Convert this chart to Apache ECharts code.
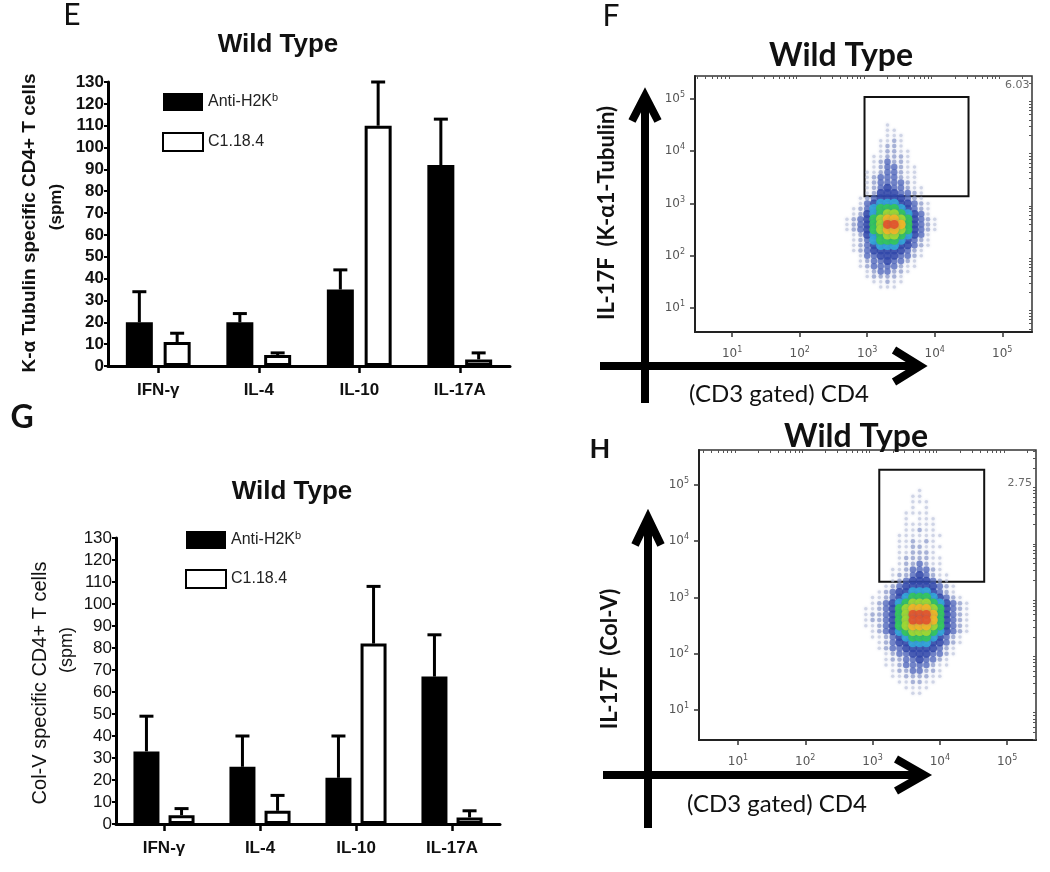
<!DOCTYPE html>
<html><head><meta charset="utf-8">
<script src="https://cdn.jsdelivr.net/npm/echarts@6/dist/echarts.min.js"></script>
<style>html,body{margin:0;padding:0;background:#fff}#c{width:1050px;height:872px}</style>
</head><body><div id="c"></div>
<script>
// ---------------- data ----------------
const categories = ['IFN-γ', 'IL-4', 'IL-10', 'IL-17A'];
const seriesNames = ['Anti-H2Kb', 'C1.18.4'];
// Panel E : K-alpha1 Tubulin specific CD4+ T cells (spm)
const tubulinAnti = [20, 20, 35, 92];
const tubulinAntiErr = [14, 4, 9, 21];
const tubulinC118 = [11, 5, 110, 3];
const tubulinC118Err = [4, 1, 20, 3];
// Panel G : Col-V specific CD4+ T cells (spm)
const colvAnti = [33, 26, 21, 67];
const colvAntiErr = [16, 14, 19, 19];
const colvC118 = [4, 6, 82, 3];
const colvC118Err = [3, 7, 26, 3];
const barAxisMax = 130;
const barAxisStep = 10;

// Flow plots (log10 units)
const flowDecades = [1, 2, 3, 4, 5];
const flowRangeF = [0.45, 5.44, 0.54, 5.44];   // xmin,xmax,ymin,ymax
const flowRangeH = [0.42, 5.43, 0.47, 5.62];
const gateF = [2.96, 4.50, 3.14, 5.04];        // x1,x2,y1,y2
const gateH = [3.10, 4.66, 3.28, 5.27];
const gateLabelF = [5.22, 5.27, '6.03'];
const gateLabelH = [5.19, 5.04, '2.75'];
const densityStep = 0.1;
// density level (0-9); rows top->bottom, columns left->right
const densityOriginF = [2.7, 4.6];
const densityF = [
  "000000000000000",
  "000000100000000",
  "000000110000000",
  "000000111000000",
  "000001121000000",
  "000001221000000",
  "000001221100000",
  "000011222100000",
  "000012322100000",
  "000012332110000",
  "000112332110000",
  "000123332110000",
  "000123333210000",
  "000123433211000",
  "000124443321000",
  "001234444321000",
  "001345554432100",
  "012356665432100",
  "012456776543100",
  "123467887643210",
  "123467998643210",
  "123467887643210",
  "012456776543100",
  "012356665432100",
  "012345554432100",
  "012344444321000",
  "001334443321000",
  "001233433210000",
  "001233332110000",
  "000123322100000",
  "000122221000000",
  "000011211000000",
  "000001110000000"
];
const densityOriginH = [2.9, 5.0];
const densityH = [
  "00000000000000000",
  "00000000100000000",
  "00000001100000000",
  "00000001110000000",
  "00000001010000000",
  "00000011110000000",
  "00000010111000000",
  "00000011111000000",
  "00000011211000000",
  "00000111111100000",
  "00000112121000000",
  "00000112211100000",
  "00000112221000000",
  "00000122221100000",
  "00000122321100000",
  "00001123332100000",
  "00001223432110000",
  "00001234443210000",
  "00012344444321000",
  "00123445554321000",
  "01123456665432100",
  "01234567776543210",
  "11234678887643210",
  "12234679998643210",
  "12234679998643210",
  "11234678887643210",
  "01234567776543210",
  "01123456665432100",
  "00123445554432100",
  "00123344444321000",
  "00012334443321000",
  "00012233433210000",
  "00011233332110000",
  "00001223322100000",
  "00001122221100000",
  "00000112211000000",
  "00000011110000000",
  "00000001100000000"
];

// ---------------- helpers ----------------
const levelColor = ['#fff', '#b9c1da', '#8c9acb', '#5268bd', '#3148aa', '#33a3d8', '#34c65e', '#9ed832', '#efb526', '#e2562c'];
const levelSize = [0, 3.5, 4.5, 6.5, 8, 9.5, 9.5, 9.5, 9.5, 9];
const levelOpacity = [0, 0.6, 0.7, 0.75, 0.85, 0.95, 0.95, 0.95, 0.95, 0.95];

function buildDensity(rows, origin, step) {
  const out = [];
  rows.forEach((row, r) => {
    for (let c = 0; c < row.length; c++) {
      const lv = +row[c];
      if (lv > 0) out.push([+(origin[0] + c * step).toFixed(3), +(origin[1] - r * step).toFixed(3), lv]);
    }
  });
  out.sort((a, b) => a[2] - b[2]);
  return out;
}
function minorTicks(lo, hi) {
  const v = [];
  for (let d = 0; d <= 6; d++) for (let k = 2; k <= 9; k++) {
    const t = d + Math.log10(k);
    if (t > lo && t < hi) v.push(t);
  }
  return v;
}
const BAR_FONT = 'Liberation Sans, Arial, sans-serif';
const FLOW_FONT = 'Lato, Open Sans, sans-serif';

function barXAxis(gi, margin) {
  return {
    gridIndex: gi, type: 'category', data: categories,
    axisLine: { show: true, lineStyle: { color: '#000', width: 3 } },
    axisTick: { show: true, alignWithLabel: true, length: 7, lineStyle: { color: '#000', width: 2.5 } },
    axisLabel: { color: '#111', fontFamily: BAR_FONT, fontWeight: 'bold', fontSize: 17, margin: margin },
    splitLine: { show: false }
  };
}
function barYAxis(gi, bold) {
  return {
    gridIndex: gi, type: 'value', min: 0, max: barAxisMax, interval: barAxisStep,
    axisLine: { show: true, lineStyle: { color: '#000', width: 3 } },
    axisTick: { show: true, length: 4, lineStyle: { color: '#000', width: 2 } },
    axisLabel: { color: '#111', fontFamily: BAR_FONT, fontWeight: bold ? 'bold' : 'normal', fontSize: 17, margin: 4 },
    splitLine: { show: false }
  };
}
function barSeries(name, gi, vals, white, bw, gap) {
  return {
    type: 'bar', name: name, xAxisIndex: gi, yAxisIndex: gi, data: vals,
    barWidth: bw, barGap: gap, z: 2,
    itemStyle: white ? { color: '#fff', borderColor: '#000', borderWidth: 3 } : { color: '#000' }
  };
}
function errSeries(gi, vals, errs, offset) {
  return {
    type: 'custom', xAxisIndex: gi, yAxisIndex: gi, silent: true, z: 3,
    data: vals.map((v, i) => [i, v, v + errs[i]]),
    encode: { x: 0, y: [1, 2] },
    renderItem: function (params, api) {
      const b = api.coord([api.value(0), api.value(1)]);
      const t = api.coord([api.value(0), api.value(2)]);
      const x = b[0] + offset;
      return {
        type: 'group', children: [
          { type: 'line', shape: { x1: x, y1: b[1], x2: x, y2: t[1] }, style: { stroke: '#000', lineWidth: 3 } },
          { type: 'line', shape: { x1: x - 7, y1: t[1], x2: x + 7, y2: t[1] }, style: { stroke: '#000', lineWidth: 3 } }
        ]
      };
    }
  };
}
function legendFor(left, top, gap) {
  return {
    left: left, top: top, orient: 'vertical', icon: 'rect',
    itemWidth: 40, itemHeight: 18, itemGap: gap, data: seriesNames,
    selectedMode: false,
    formatter: n => n === 'Anti-H2Kb' ? '{n|Anti-H2K}{s|b}' : '{n|' + n + '}',
    textStyle: {
      color: '#222', fontFamily: BAR_FONT,
      rich: { n: { fontSize: 16, lineHeight: 20, fontFamily: BAR_FONT, color: '#222' },
              s: { fontSize: 11, lineHeight: 20, verticalAlign: 'top', fontFamily: BAR_FONT, color: '#222' } }
    }
  };
}
const supRich = { s: { fontSize: 8, lineHeight: 16, verticalAlign: 'top', color: '#555' } };
function flowAxes(gi, range, isX) {
  const lo = isX ? range[0] : range[2], hi = isX ? range[1] : range[3];
  const major = {
    gridIndex: gi, type: 'value', min: lo, max: hi,
    axisLine: { show: true, lineStyle: { color: '#222', width: 2 } },
    axisTick: { show: true, customValues: flowDecades, length: 5, lineStyle: { color: '#333', width: 1.5 } },
    axisLabel: { customValues: flowDecades, formatter: v => '10{s|' + Math.round(v) + '}', rich: supRich,
                 color: '#555', fontSize: 12, lineHeight: 16, margin: isX ? 14 : 10, fontFamily: 'DejaVu Sans, sans-serif' },
    splitLine: { show: false }
  };
  const minor = {
    gridIndex: gi, type: 'value', min: lo, max: hi,
    axisLine: { show: false },
    axisTick: { show: true, inside: true, customValues: minorTicks(lo, hi), length: 3, lineStyle: { color: '#555', width: 1 } },
    axisLabel: { show: false }, splitLine: { show: false }
  };
  return [major, minor];
}
function flowSeries(xi, yi, rows, origin, gate, lab) {
  return [{
    type: 'scatter', xAxisIndex: xi, yAxisIndex: yi, silent: true,
    data: buildDensity(rows, origin, densityStep).map(d => ({
      value: d, itemStyle: { color: levelColor[d[2]], opacity: levelOpacity[d[2]] }
    })),
    symbol: 'circle',
    symbolSize: v => levelSize[v[2]],
    itemStyle: { shadowBlur: 3, shadowColor: 'rgba(60,80,160,0.3)' },
    markArea: {
      silent: true,
      itemStyle: { color: 'rgba(0,0,0,0)', borderColor: '#111', borderWidth: 2 },
      data: [[{ coord: [gate[0], gate[2]] }, { coord: [gate[1], gate[3]] }]]
    }
  }, {
    type: 'scatter', xAxisIndex: xi, yAxisIndex: yi, silent: true,
    data: [lab], symbolSize: 0,
    label: { show: true, position: 'inside', formatter: p => p.value[2], color: '#444', fontSize: 11, fontFamily: 'DejaVu Sans, sans-serif' }
  }];
}

const fx = flowAxes(2, flowRangeF, true), fy = flowAxes(2, flowRangeF, false);
const hx = flowAxes(3, flowRangeH, true), hy = flowAxes(3, flowRangeH, false);

function txt(x, y, text, size, weight, family, rot, color) {
  return { type: 'text', x: x, y: y, rotation: rot || 0, silent: true,
    style: { text: text, fontSize: size, fontWeight: weight, fontFamily: family, fill: color || '#111', align: 'center', verticalAlign: 'middle' } };
}
function poly(points, w) {
  return { type: 'polyline', silent: true, shape: { points: points }, style: { stroke: '#000', lineWidth: w || 8, lineJoin: 'miter', lineCap: 'butt', fill: null } };
}
const R = Math.PI / 2;

const option = {
  animation: false,
  backgroundColor: '#fff',
  grid: [
    { left: 108, top: 82, width: 402, height: 284 },
    { left: 116, top: 538, width: 384, height: 286 },
    { left: 695, top: 76, width: 337, height: 256, show: true, borderColor: '#333', borderWidth: 1.5 },
    { left: 699, top: 450, width: 337, height: 290, show: true, borderColor: '#333', borderWidth: 1.5 }
  ],
  legend: [legendFor(157, 87, 21), legendFor(180, 525, 20)],
  xAxis: [barXAxis(0, 16), barXAxis(1, 16), fx[0], fx[1], hx[0], hx[1]],
  yAxis: [barYAxis(0, true), barYAxis(1, false), fy[0], fy[1], hy[0], hy[1]],
  series: [
    barSeries(seriesNames[0], 0, tubulinAnti, false, 27, '40%'),
    barSeries(seriesNames[1], 0, tubulinC118, true, 27, '40%'),
    errSeries(0, tubulinAnti, tubulinAntiErr, -18.9),
    errSeries(0, tubulinC118, tubulinC118Err, 18.9),
    barSeries(seriesNames[0], 1, colvAnti, false, 26, '35%'),
    barSeries(seriesNames[1], 1, colvC118, true, 26, '35%'),
    errSeries(1, colvAnti, colvAntiErr, -17.55),
    errSeries(1, colvC118, colvC118Err, 17.55),
    ...flowSeries(2, 2, densityF, densityOriginF, gateF, gateLabelF),
    ...flowSeries(4, 4, densityH, densityOriginH, gateH, gateLabelH)
  ],
  graphic: [
    // panel letters
    txt(72, 15, 'E', 30, 'normal', FLOW_FONT),
    txt(611, 16, 'F', 30, 'normal', FLOW_FONT),
    txt(22, 418, 'G', 32, 'bold', FLOW_FONT),
    txt(600, 449, 'H', 27, 'bold', FLOW_FONT),
    // titles
    txt(278, 45, 'Wild Type', 26, 'bold', BAR_FONT),
    txt(292, 492, 'Wild Type', 26, 'bold', BAR_FONT),
    txt(841, 56, 'Wild Type', 32, 'bold', FLOW_FONT),
    txt(856, 437, 'Wild Type', 32, 'bold', FLOW_FONT),
    // bar y-axis names
    txt(30, 223, 'K-α Tubulin specific CD4+ T cells', 19, 'bold', BAR_FONT, R),
    txt(56, 207, '(spm)', 17, 'bold', BAR_FONT, R),
    txt(40, 683, 'Col-V specific CD4+ T cells', 20, 'normal', BAR_FONT, R),
    txt(67, 650, '(spm)', 18, 'normal', BAR_FONT, R),
    // flow axis names
    txt(607, 213, 'IL-17F  (K-α1-Tubulin)', 22, 'bold', FLOW_FONT, R),
    txt(610, 659, 'IL-17F  (Col-V)', 22, 'bold', FLOW_FONT, R),
    txt(779, 394, '(CD3 gated) CD4', 24, 'normal', FLOW_FONT),
    txt(777, 804, '(CD3 gated) CD4', 24, 'normal', FLOW_FONT),
    // thick arrows (panel F)
    poly([[645, 403], [645, 98]]),
    poly([[632, 121], [645, 96], [658, 121]]),
    poly([[600, 366], [918, 366]]),
    poly([[894, 350], [920, 366], [894, 382]]),
    // thick arrows (panel H)
    poly([[648, 828], [648, 520]]),
    poly([[635, 545], [648, 518], [661, 545]]),
    poly([[603, 775], [922, 775]]),
    poly([[896, 759], [924, 775], [896, 791]])
  ]
};
const chart = echarts.init(document.getElementById('c'), null, { renderer: 'canvas' });
chart.setOption(option);
</script>
</body></html>
